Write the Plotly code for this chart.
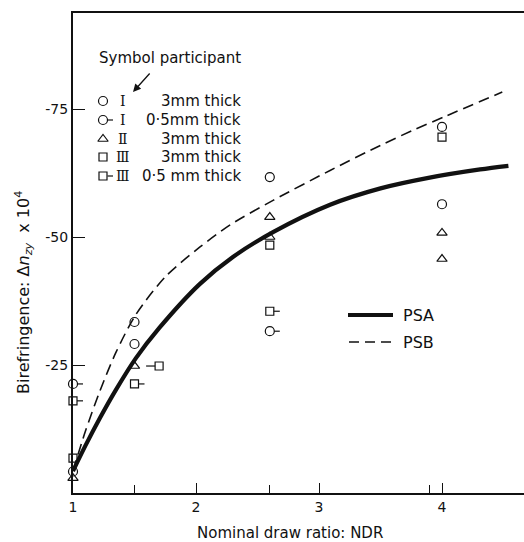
import plotly.graph_objects as go

# ---------------- data ----------------
# Participant I, 3 mm thick (open circles)
ndr_I3 = [1.0, 1.5, 1.5, 2.6, 4.0, 4.0]
bir_I3 = [-4.2, -33.4, -29.1, -61.7, -71.5, -56.4]
# Participant I, 0.5 mm thick (circle with tick)
ndr_I05 = [1.0, 2.6]
bir_I05 = [-21.3, -31.6]
# Participant II, 3 mm thick (triangles)
ndr_II3 = [1.0, 1.5, 2.6, 2.6, 4.0, 4.0]
bir_II3 = [-2.9, -24.8, -53.9, -50.0, -50.8, -45.7]
# Participant III, 3 mm thick (squares)
ndr_III3 = [1.0, 2.6, 4.0]
bir_III3 = [-6.8, -48.4, -69.5]
# Participant III, 0.5 mm thick (square with tick)
ndr_III05 = [1.0, 1.5, 1.7, 2.6]
bir_III05 = [-18.0, -21.3, -24.8, -35.5]
tickside_III05 = [1, 1, -1, 1]

# Model curves
ndr_PSA = [1.0, 1.1, 1.22, 1.35, 1.51, 1.7, 2.03, 2.3, 2.63, 3.09, 3.5, 3.9, 4.31, 4.54]
bir_PSA = [-4.3, -9.2, -14.7, -20.2, -26.3, -32.2, -40.8, -46.1, -51.0, -56.3, -59.5,
           -61.6, -63.2, -63.9]
ndr_PSB = [1.0, 1.1, 1.22, 1.35, 1.51, 1.75, 2.03, 2.28, 2.63, 3.09, 3.5, 3.76, 4.03, 4.49]
bir_PSB = [-4.3, -12.0, -20.0, -27.5, -34.8, -42.2, -48.0, -52.4, -57.2, -63.0, -67.9,
           -70.8, -73.6, -78.3]

y_ticks = [-25, -50, -75]
y_ticktext = ["-25", "-50", "-75"]
x_ticks = [1, 2, 3, 4]
x_ticktext = ["1", "2", "3", "4"]
x_minor = [1.5, 2.6, 3.9]

legend_rows = [
    ("circle-open", "Ⅰ", "3mm thick"),
    ("circle-open", "Ⅰ", "0·5mm thick"),
    ("triangle-up-open", "Ⅱ", "3mm thick"),
    ("square-open", "Ⅲ", "3mm thick"),
    ("square-open", "Ⅲ", "0·5 mm thick"),
]
legend_ticks = [False, True, False, False, True]

FONT = "DejaVu Sans"
BLACK = "#111"

fig = go.Figure()

fig.add_trace(go.Scatter(x=ndr_PSA, y=bir_PSA, mode="lines",
                         line=dict(color=BLACK, width=4.2, shape="spline", smoothing=0.8),
                         showlegend=False, hoverinfo="skip"))
fig.add_trace(go.Scatter(x=ndr_PSB, y=bir_PSB, mode="lines",
                         line=dict(color=BLACK, width=1.6, shape="spline", smoothing=0.8,
                                   dash="11px,6px"),
                         showlegend=False, hoverinfo="skip"))

def markers(xs, ys, sym, size):
    fig.add_trace(go.Scatter(x=xs, y=ys, mode="markers", cliponaxis=False,
                             marker=dict(symbol=sym, size=size, color=BLACK,
                                         line=dict(color=BLACK, width=1.2)),
                             showlegend=False))

markers(ndr_I3, bir_I3, "circle-open", 9)
markers(ndr_I05, bir_I05, "circle-open", 9)
markers(ndr_II3, bir_II3, "triangle-up-open", 9)
markers(ndr_III3, bir_III3, "square-open", 8)
markers(ndr_III05, bir_III05, "square-open", 8)

shapes = []
for x, y in zip(ndr_I05, bir_I05):
    shapes.append(dict(type="line", xref="x", yref="y", xsizemode="pixel", xanchor=x,
                       x0=4.5, x1=10, y0=y, y1=y, line=dict(color=BLACK, width=1.2)))
for x, y, s in zip(ndr_III05, bir_III05, tickside_III05):
    if s > 0:
        x0, x1 = 4, 10
    else:
        x0, x1 = -13, -4
    shapes.append(dict(type="line", xref="x", yref="y", xsizemode="pixel", xanchor=x,
                       x0=x0, x1=x1, y0=y, y1=y, line=dict(color=BLACK, width=1.2)))

# --- symbol legend (overlay axes in plot-fraction units) ---
W_PLOT, H_PLOT = 451, 480
def px2fx(px):
    return (px - 73) / W_PLOT
def py2fy(py):
    return (493 - py) / H_PLOT

row_y = [101, 120, 139, 157, 176]
annotations = []
for (sym, num, txt), ry, tk in zip(legend_rows, row_y, legend_ticks):
    size = 8 if sym.startswith("square") else 9
    fig.add_trace(go.Scatter(x=[px2fx(103)], y=[py2fy(ry)], xaxis="x2", yaxis="y2",
                             mode="markers", cliponaxis=False,
                             marker=dict(symbol=sym, size=size, color=BLACK,
                                         line=dict(color=BLACK, width=1.2)),
                             showlegend=False, hoverinfo="skip"))
    if tk:
        shapes.append(dict(type="line", xref="paper", yref="paper", xsizemode="pixel",
                           xanchor=px2fx(103), x0=4.5, x1=10,
                           y0=py2fy(ry), y1=py2fy(ry), line=dict(color=BLACK, width=1.2)))
    annotations.append(dict(x=px2fx(123), y=py2fy(ry), xref="paper", yref="paper",
                            text=num, showarrow=False, xanchor="center", yanchor="middle",
                            font=dict(family="DejaVu Serif", size=14, color=BLACK)))
    annotations.append(dict(x=px2fx(243), y=py2fy(ry), xref="paper", yref="paper",
                            text=txt, showarrow=False, xanchor="right", yanchor="middle",
                            font=dict(family=FONT, size=15, color=BLACK)))

annotations.append(dict(x=px2fx(243), y=py2fy(58), xref="paper", yref="paper",
                        text="Symbol participant", showarrow=False, xanchor="right",
                        yanchor="middle", font=dict(family=FONT, size=15, color=BLACK)))
# arrow
annotations.append(dict(x=px2fx(133), y=py2fy(92), xref="paper", yref="paper",
                        ax=18, ay=-20, text="", showarrow=True, arrowhead=2,
                        arrowsize=1.2, arrowwidth=1.3, arrowcolor=BLACK))

# --- PSA / PSB key ---
shapes.append(dict(type="line", xref="paper", yref="paper",
                   x0=px2fx(348), x1=px2fx(393), y0=py2fy(315), y1=py2fy(315),
                   line=dict(color=BLACK, width=4.2)))
shapes.append(dict(type="line", xref="paper", yref="paper",
                   x0=px2fx(349), x1=px2fx(393), y0=py2fy(342), y1=py2fy(342),
                   line=dict(color=BLACK, width=1.6, dash="10px,6px")))
annotations.append(dict(x=px2fx(401), y=py2fy(315), xref="paper", yref="paper",
                        text="PSA", showarrow=False, xanchor="left", yanchor="middle",
                        font=dict(family=FONT, size=16, color=BLACK)))
annotations.append(dict(x=px2fx(401), y=py2fy(342), xref="paper", yref="paper",
                        text="PSB", showarrow=False, xanchor="left", yanchor="middle",
                        font=dict(family=FONT, size=16, color=BLACK)))

# --- axis titles ---
annotations.append(dict(x=px2fx(290), y=py2fy(533), xref="paper", yref="paper",
                        text="Nominal draw ratio: NDR", showarrow=False,
                        xanchor="center", yanchor="middle",
                        font=dict(family=FONT, size=15, color=BLACK)))
annotations.append(dict(x=px2fx(24), y=py2fy(293), xref="paper", yref="paper",
                        text="Birefringence: Δ<i>n</i><sub><i>zy</i></sub>  x 10<sup>4</sup>",
                        showarrow=False, textangle=-90, xanchor="center", yanchor="middle",
                        font=dict(family=FONT, size=16, color=BLACK)))

fig.update_layout(
    width=524, height=542,
    margin=dict(l=73, r=0, t=13, b=49),
    paper_bgcolor="white", plot_bgcolor="white",
    shapes=shapes, annotations=annotations,
    xaxis=dict(range=[1, 1 + 451 / 123], showgrid=False, zeroline=False,
               showline=True, linecolor=BLACK, linewidth=1.6, mirror=True,
               tickmode="array", tickvals=x_ticks, ticktext=x_ticktext,
               ticks="inside", ticklen=10, tickwidth=1.3, tickcolor=BLACK,
               tickfont=dict(family=FONT, size=14, color=BLACK),
               minor=dict(tickmode="array", tickvals=x_minor, ticks="inside",
                          ticklen=8, tickwidth=1.3, tickcolor=BLACK, showgrid=False)),
    yaxis=dict(range=[0, -93.75], showgrid=False, zeroline=False,
               showline=True, linecolor=BLACK, linewidth=2,
               tickmode="array", tickvals=y_ticks, ticktext=y_ticktext,
               ticks="inside", ticklen=12, tickwidth=1.3, tickcolor=BLACK,
               tickfont=dict(family=FONT, size=14, color=BLACK)),
    xaxis2=dict(range=[0, 1], overlaying="x", visible=False, anchor="y2"),
    yaxis2=dict(range=[0, 1], overlaying="y", visible=False, anchor="x2"),
)

fig.write_html("out.html")
